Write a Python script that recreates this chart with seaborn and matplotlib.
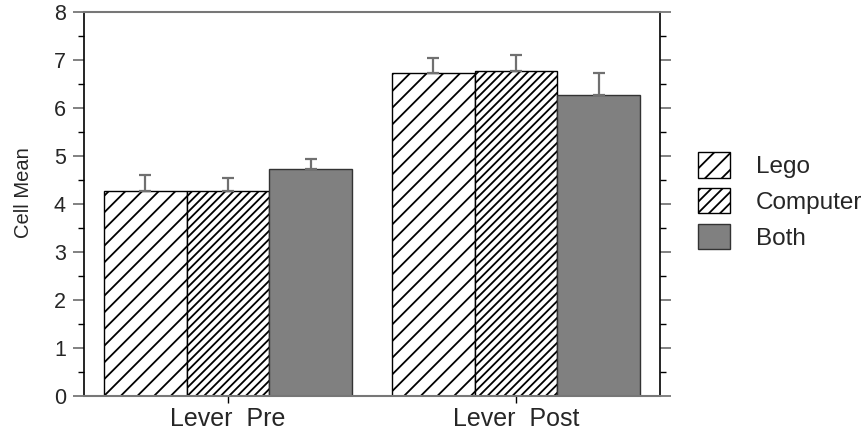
import matplotlib
matplotlib.use("Agg")
import matplotlib.pyplot as plt
import seaborn as sns
import pandas as pd
import numpy as np
from matplotlib.patches import Patch
from matplotlib.ticker import MultipleLocator

conditions = ["Lever  Pre", "Lever  Post"]
groups = ["Lego", "Computer", "Both"]
means = {
    "Lego": [4.27, 6.72],
    "Computer": [4.27, 6.78],
    "Both": [4.73, 6.27],
}
errors = {
    "Lego": [0.33, 0.33],
    "Computer": [0.28, 0.33],
    "Both": [0.21, 0.45],
}
hatches = {"Lego": "//", "Computer": "////", "Both": ""}
fills = {"Lego": "white", "Computer": "white", "Both": "#808080"}

rows = []
for g in groups:
    for c, m, e in zip(conditions, means[g], errors[g]):
        rows.append({"Condition": c, "Group": g, "Mean": m, "Err": e})
df = pd.DataFrame(rows)

sns.set_style("white")
plt.rcParams["font.family"] = ["Liberation Sans", "DejaVu Sans"]
plt.rcParams["hatch.linewidth"] = 1.3

fig = plt.figure(figsize=(8.67, 4.44), dpi=100)
ax = fig.add_axes([84 / 867, 1 - 396 / 444, (660 - 84) / 867, (396 - 12) / 444])

sns.barplot(data=df, x="Condition", y="Mean", hue="Group", order=conditions,
            hue_order=groups, palette=[fills[g] for g in groups],
            errorbar=None, width=0.864, gap=0, ax=ax, legend=False,
            edgecolor="black", linewidth=1.0, saturation=1)

patches = [p for p in ax.patches]
i = 0
for g in groups:
    for k, c in enumerate(conditions):
        p = patches[i]
        i += 1
        p.set_hatch(hatches[g])
        p.set_facecolor(fills[g])
        if g == "Both":
            p.set_edgecolor("#333333")
        xc = p.get_x() + p.get_width() / 2
        h = p.get_height()
        e = errors[g][k]
        ax.errorbar([xc], [h], yerr=[[0], [e]], fmt="none", ecolor="#707070",
                    elinewidth=1.6, capsize=4.5, capthick=1.6, zorder=1)

ax.set_xlim(-0.5, 1.5)
ax.set_ylim(0, 8)
ax.yaxis.set_major_locator(MultipleLocator(1))
ax.yaxis.set_minor_locator(MultipleLocator(0.5))
ax.tick_params(axis="y", which="major", direction="out", length=8, width=1.3,
               color="#777777", labelsize=15.5, left=True, right=True,
               labelright=False, pad=5)
ax.tick_params(axis="y", which="minor", direction="out", length=4, width=1,
               color="black", left=True, right=True)
ax.tick_params(axis="x", which="major", direction="out", length=5, width=1,
               color="black", labelsize=18, bottom=True, pad=3)
ax.set_xlabel("")
ax.set_ylabel("Cell Mean", fontsize=14.5)
ax.yaxis.set_label_coords(-0.088, 0.53)

for s in ["left", "right"]:
    ax.spines[s].set_color("black")
    ax.spines[s].set_linewidth(1.2)
for s in ["top", "bottom"]:
    ax.spines[s].set_color("#777777")
    ax.spines[s].set_linewidth(1.5)

handles = [Patch(facecolor=fills[g], edgecolor="black" if g != "Both" else "#333333",
                 hatch=hatches[g] if g != "Computer" else "///", linewidth=1.0, label=g)
           for g in groups]
leg = fig.legend(handles=handles, loc="upper left",
                 bbox_to_anchor=(679 / 867, 1 - 133 / 444), frameon=False,
                 prop={"size": 17.5}, handlelength=1.28, handleheight=1.23,
                 labelspacing=0.4, handletextpad=1.07, borderpad=0.3)

fig.savefig("out.png", dpi=100)
